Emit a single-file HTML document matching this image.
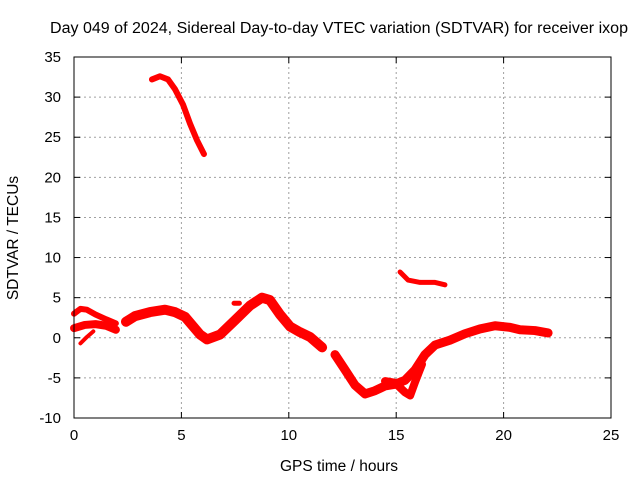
<!DOCTYPE html>
<html><head><meta charset="utf-8"><style>
body{margin:0;background:#fff;}
svg{display:block;font-family:"Liberation Sans",sans-serif;}
</style></head><body>
<svg id="chart" width="640" height="480">
<text x="339" y="33" font-size="15.5" text-anchor="middle" textLength="578" lengthAdjust="spacingAndGlyphs">Day 049 of 2024, Sidereal Day-to-day VTEC variation (SDTVAR) for receiver ixop</text>
<text x="339" y="471" font-size="15.5" text-anchor="middle">GPS time / hours</text>
<text transform="translate(18,238) rotate(-90)" font-size="15.5" text-anchor="middle">SDTVAR / TECUs</text>
<g id="grid"></g><g id="marks"></g><g id="axes"></g>
</svg>
<script>
const xTicks=[0,5,10,15,20,25];
const yTicks=[-10,-5,0,5,10,15,20,25,30,35];
const segTopX=[3.63,4.0,4.38,4.70,5.07,5.40,5.73,6.05];
const segTopY=[32.2,32.6,32.2,31.0,29.1,26.7,24.6,22.9];
const segAUpX=[0,0.3,0.6,1.0,1.5,1.95];
const segAUpY=[3.0,3.6,3.5,2.9,2.3,1.8];
const segALoX=[0,0.5,1.0,1.5,1.95];
const segALoY=[1.2,1.6,1.7,1.5,1.0];
const segATailX=[0.3,0.6,0.9];
const segATailY=[-0.7,0.1,0.8];
const segBX=[2.42,2.84,3.54,4.24,4.70,5.17,5.87,6.19,6.80,7.50,8.19,8.75,9.12,9.59,10.06,10.52,10.99,11.55];
const segBY=[2.0,2.7,3.2,3.5,3.2,2.6,0.4,-0.2,0.4,2.2,4.0,5.0,4.7,2.9,1.4,0.7,0.1,-1.2];
const segBlobX=[7.45,7.7];
const segBlobY=[4.3,4.3];
const segCX=[12.15,12.62,13.08,13.55,14.01,14.48,14.94,15.41,15.88,16.34,16.81,17.50,18.20,18.90,19.60,20.30,20.76,21.46,22.07];
const segCY=[-2.1,-4.0,-5.9,-7.0,-6.6,-6.0,-5.8,-5.3,-4.0,-2.1,-0.9,-0.3,0.5,1.1,1.5,1.3,1.0,0.9,0.6];
const segC2X=[14.48,14.94,15.41,15.65,15.88,16.2];
const segC2Y=[-5.4,-5.6,-6.8,-7.2,-5.5,-3.3];
const segEX=[15.18,15.55,16.11,16.81,17.27];
const segEY=[8.2,7.2,6.9,6.9,6.6];

const L=74,R=611,T=57,B=418;
const sx=h=>L+(h-0)/25*(R-L);
const sy=v=>B-(v+10)/45*(B-T);
const NS="http://www.w3.org/2000/svg";
function mk(tag,attrs,parent){const e=document.createElementNS(NS,tag);for(const k in attrs)e.setAttribute(k,attrs[k]);parent.appendChild(e);return e;}
const grid=document.getElementById('grid'),axes=document.getElementById('axes'),marks=document.getElementById('marks');
xTicks.forEach(t=>{const x=sx(t);
 if(t>0&&t<25){const g=mk('line',{x1:x,x2:x,y1:T,y2:B,stroke:'#a0a0a0','stroke-dasharray':'2,3'},grid);
 }
 mk('line',{x1:x,x2:x,y1:B,y2:B-6,stroke:'#000'},axes);
 mk('line',{x1:x,x2:x,y1:T,y2:T+6,stroke:'#000'},axes);
 const tx=mk('text',{x:x,y:B+22,'font-size':15,'text-anchor':'middle'},axes);tx.textContent=t;
 });
yTicks.forEach(t=>{const y=sy(t);
 if(t>-10&&t<35){const g=mk('line',{x1:L,x2:R,y1:y,y2:y,stroke:'#a0a0a0','stroke-dasharray':'2,3'},grid);
 }
 mk('line',{x1:L,x2:L+6,y1:y,y2:y,stroke:'#000'},axes);
 mk('line',{x1:R,x2:R-6,y1:y,y2:y,stroke:'#000'},axes);
 const tx=mk('text',{x:L-13,y:y+5,'font-size':15,'text-anchor':'end'},axes);tx.textContent=t;
 });
const fr=mk('rect',{x:L,y:T,width:R-L,height:B-T,fill:'none',stroke:'#000'},axes);

function seg(xs,ys,w){const p=mk('polyline',{points:xs.map((h,i)=>sx(h)+','+sy(ys[i])).join(' '),fill:'none',stroke:'#ff0000','stroke-width':w,'stroke-linejoin':'round','stroke-linecap':'round'},marks);
 }
seg(segTopX,segTopY,6);seg(segAUpX,segAUpY,6);seg(segALoX,segALoY,8);seg(segATailX,segATailY,4);
seg(segBX,segBY,10);seg(segBlobX,segBlobY,5);seg(segCX,segCY,9);seg(segC2X,segC2Y,8);seg(segEX,segEY,5);
</script>
</body></html>
